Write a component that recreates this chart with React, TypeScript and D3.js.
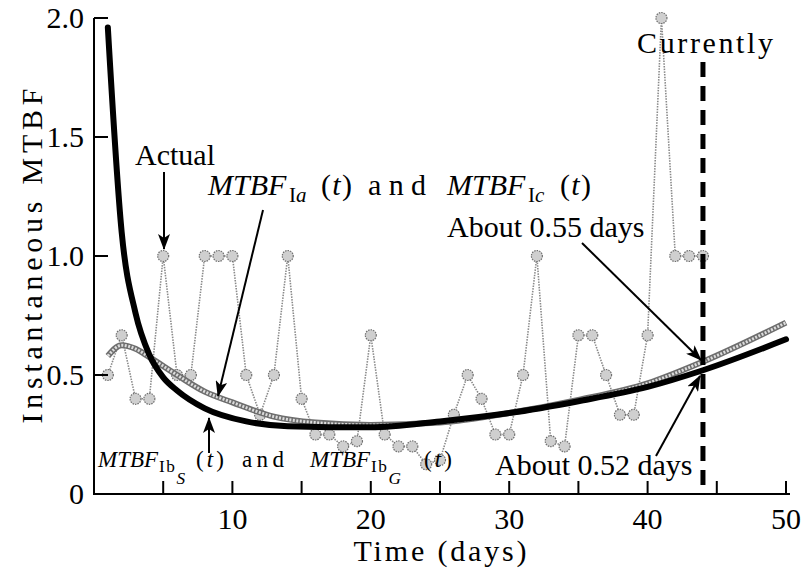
import * as d3 from "d3";
import { useEffect, useRef } from "react";

// observed instantaneous MTBF per day
const actualDays = [
  1, 2, 3, 4, 5, 6, 7, 8, 9, 10, 11, 12, 13, 14, 15, 16, 17, 18, 19, 20, 21, 22,
  23, 24, 25, 26, 27, 28, 29, 30, 31, 32, 33, 34, 35, 36, 37, 38, 39, 40, 41, 42,
  43, 44,
];
const actualMtbf = [
  0.5, 0.667, 0.4, 0.4, 1.0, 0.5, 0.5, 1.0, 1.0, 1.0, 0.5, 0.333, 0.5, 1.0, 0.4,
  0.25, 0.25, 0.2, 0.222, 0.667, 0.25, 0.2, 0.2, 0.125, 0.143, 0.333, 0.5, 0.4,
  0.25, 0.25, 0.5, 1.0, 0.222, 0.2, 0.667, 0.667, 0.5, 0.333, 0.333, 0.667, 2.0,
  1.0, 1.0, 1.0,
];

// MTBF_Ib (black) estimate
const ibDays = [1, 2, 3, 4, 5, 6, 8, 11, 14, 20, 25, 30, 35, 40, 44, 50];
const ibMtbf = [
  1.96, 1.1, 0.76, 0.585, 0.49, 0.435, 0.36, 0.305, 0.285, 0.28, 0.305, 0.34,
  0.39, 0.45, 0.52, 0.65,
];

// MTBF_Ia / MTBF_Ic (gray) estimate
const iacDays = [1, 2, 3, 4, 6, 8, 10, 13, 16, 20, 25, 30, 35, 40, 44, 50];
const iacMtbf = [
  0.58, 0.625, 0.61, 0.575, 0.5, 0.43, 0.385, 0.325, 0.3, 0.29, 0.3, 0.34,
  0.395, 0.465, 0.556, 0.72,
];

const xTicks = [5, 10, 15, 20, 25, 30, 35, 40, 45, 50];
const xTickLabels = [10, 20, 30, 40, 50];
const yTicks = [0, 0.5, 1, 1.5, 2];
const yTickLabels = ["0", "0.5", "1.0", "1.5", "2.0"];
const currentDay = 44;

const FONT = '"Liberation Serif", "Times New Roman", serif';

type G = d3.Selection<SVGGElement, unknown, null, undefined>;

// italic MTBF with a subscript and (t); subX / parenX are absolute positions
function mtbfLabel(
  g: G,
  x0: number,
  yb: number,
  size: number,
  sub: string,
  subsub: string | null,
  subItalic: boolean,
  subX: number,
  parenX: number,
  parenW: number | null,
  subScale = 0.7
) {
  g.append("text").attr("x", x0).attr("y", yb).attr("font-size", size).attr("font-style", "italic").text("MTBF");
  const subY = yb + size * 0.22;
  const s = g
    .append("text")
    .attr("x", subX)
    .attr("y", subY)
    .attr("font-size", size * subScale)
    .attr("letter-spacing", subsub ? 1.5 : 0);
  s.append("tspan").text(sub[0]);
  s.append("tspan").attr("font-style", subItalic ? "italic" : "normal").text(sub.slice(1));
  if (subsub) {
    s.append("tspan").attr("dy", size * 0.5).attr("font-style", "italic").text(subsub);
  }
  const p = g.append("text").attr("x", parenX).attr("y", yb).attr("font-size", size);
  if (parenW) p.attr("textLength", parenW).attr("lengthAdjust", "spacing");
  p.append("tspan").text("(");
  p.append("tspan").attr("font-style", "italic").text("t");
  p.append("tspan").text(")");
}

export default function App() {
  const ref = useRef<SVGSVGElement>(null);

  useEffect(() => {
    if (!ref.current) return;
    document.body.style.margin = "0";
    const svg = d3.select(ref.current);
    svg.selectAll("*").remove();

    const width = 803;
    const height = 571;
    svg.attr("width", width).attr("height", height).attr("viewBox", `0 0 ${width} ${height}`);
    svg.style("font-family", FONT).style("background", "#fff");

    const x = d3.scaleLinear().domain([0, 50]).range([94, 786]);
    const y = d3.scaleLinear().domain([0, 2]).range([494, 18]);

    const defs = svg.append("defs");
    defs
      .append("marker")
      .attr("id", "arr")
      .attr("viewBox", "0 0 16 12")
      .attr("markerUnits", "userSpaceOnUse")
      .attr("markerWidth", 16)
      .attr("markerHeight", 12)
      .attr("refX", 15)
      .attr("refY", 6)
      .attr("orient", "auto")
      .append("path")
      .attr("d", "M0,0 L16,6 L0,12 L4,6 Z")
      .attr("fill", "#000");

    // actual data: dotted line + markers
    const actual = actualDays.map((d, i) => ({ d, v: actualMtbf[i] }));
    const lineA = d3
      .line<{ d: number; v: number }>()
      .x((p) => x(p.d))
      .y((p) => y(p.v));
    svg
      .append("path")
      .datum(actual)
      .attr("fill", "none")
      .attr("stroke", "#8a8a8a")
      .attr("stroke-width", 1.6)
      .attr("stroke-dasharray", "1.5 1.2")
      .attr("d", lineA);
    svg
      .append("g")
      .selectAll("circle")
      .data(actual)
      .join("circle")
      .attr("cx", (p) => x(p.d))
      .attr("cy", (p) => y(p.v))
      .attr("r", 5.5)
      .attr("fill", "#cfcfcf")
      .attr("stroke", "#707070")
      .attr("stroke-width", 1.2)
      .attr("stroke-dasharray", "1.5 1");

    // gray hatched curve
    const iac = iacDays.map((d, i) => ({ d, v: iacMtbf[i] }));
    const curve = d3
      .line<{ d: number; v: number }>()
      .x((p) => x(p.d))
      .y((p) => y(p.v))
      .curve(d3.curveMonotoneX);
    svg
      .append("path")
      .datum(iac)
      .attr("fill", "none")
      .attr("stroke", "#6e6e6e")
      .attr("stroke-width", 6)
      .attr("d", curve);
    svg
      .append("path")
      .datum(iac)
      .attr("fill", "none")
      .attr("stroke", "#dcdcdc")
      .attr("stroke-width", 3)
      .attr("stroke-dasharray", "2 1.5")
      .attr("d", curve);

    // black curve
    const ib = ibDays.map((d, i) => ({ d, v: ibMtbf[i] }));
    svg
      .append("path")
      .datum(ib)
      .attr("fill", "none")
      .attr("stroke", "#000")
      .attr("stroke-width", 6)
      .attr("stroke-linecap", "round")
      .attr("d", curve);

    // current day marker
    svg
      .append("line")
      .attr("x1", x(currentDay))
      .attr("x2", x(currentDay))
      .attr("y1", 62)
      .attr("y2", y(0))
      .attr("stroke", "#000")
      .attr("stroke-width", 5)
      .attr("stroke-dasharray", "15 9");

    // axes
    const axes = svg.append("g").attr("stroke", "#000").attr("stroke-width", 2);
    axes.append("line").attr("x1", x(0)).attr("x2", x(0)).attr("y1", y(2)).attr("y2", y(0));
    axes.append("line").attr("x1", x(0) - 1).attr("x2", 790).attr("y1", y(0)).attr("y2", y(0));
    axes
      .selectAll("line.xt")
      .data(xTicks)
      .join("line")
      .attr("class", "xt")
      .attr("x1", (d) => x(d))
      .attr("x2", (d) => x(d))
      .attr("y1", y(0))
      .attr("y2", y(0) - 13);
    axes
      .selectAll("line.yt")
      .data(yTicks)
      .join("line")
      .attr("class", "yt")
      .attr("x1", x(0))
      .attr("x2", x(0) + 14)
      .attr("y1", (d) => y(d))
      .attr("y2", (d) => y(d));

    svg
      .append("g")
      .selectAll("text")
      .data(xTickLabels)
      .join("text")
      .attr("x", (d) => x(d))
      .attr("y", y(0) + 35)
      .attr("text-anchor", "middle")
      .attr("font-size", 30)
      .text((d) => d);
    svg
      .append("g")
      .selectAll("text")
      .data(yTicks)
      .join("text")
      .attr("x", 84)
      .attr("y", (d) => y(d) + 10)
      .attr("text-anchor", "end")
      .attr("font-size", 30)
      .text((_, i) => yTickLabels[i]);

    svg
      .append("text")
      .attr("x", x(25))
      .attr("y", 561)
      .attr("text-anchor", "middle")
      .attr("font-size", 30)
      .attr("textLength", 173)
      .attr("lengthAdjust", "spacing")
      .text("Time (days)");
    svg
      .append("text")
      .attr("transform", `translate(42,${(y(0) + y(2)) / 2}) rotate(-90)`)
      .attr("text-anchor", "middle")
      .attr("font-size", 30)
      .attr("textLength", 335)
      .attr("lengthAdjust", "spacing")
      .text("Instantaneous MTBF");

    // annotations
    const note = svg.append("g").attr("font-size", 30);
    note.append("text").attr("x", 637).attr("y", 53).attr("textLength", 136).attr("lengthAdjust", "spacing").text("Currently");
    note.append("text").attr("x", 135).attr("y", 165).text("Actual");
    note.append("text").attr("x", 447).attr("y", 237).text("About 0.55 days");
    note.append("text").attr("x", 495).attr("y", 475).text("About 0.52 days");

    mtbfLabel(note, 208, 195, 30, "Ia", null, true, 289, 321, 31);
    note.append("text").attr("x", 368).attr("y", 195).attr("textLength", 58).attr("lengthAdjust", "spacing").text("and");
    mtbfLabel(note, 447, 195, 30, "Ic", null, true, 528, 560, 31);

    const small = svg.append("g");
    mtbfLabel(small, 98, 467, 23, "Ib", "S", false, 159, 196, 28, 0.75);
    small.append("text").attr("x", 242).attr("y", 467).attr("font-size", 23).attr("textLength", 42).attr("lengthAdjust", "spacing").text("and");
    mtbfLabel(small, 310, 467, 23, "Ib", "G", false, 371, 424, 28, 0.75);

    // arrows
    const arrows = [
      [164, 172, 164, 249],
      [263, 210, 218, 396],
      [582, 243, 701, 360],
      [656, 456, 700, 376],
      [209, 453, 209, 418],
    ];
    svg
      .append("g")
      .selectAll("line")
      .data(arrows)
      .join("line")
      .attr("x1", (a) => a[0])
      .attr("y1", (a) => a[1])
      .attr("x2", (a) => a[2])
      .attr("y2", (a) => a[3])
      .attr("stroke", "#000")
      .attr("stroke-width", 2)
      .attr("marker-end", "url(#arr)");
  }, []);

  return <svg ref={ref} style={{ display: "block" }} role="img" aria-label="Instantaneous MTBF over time" />;
}
